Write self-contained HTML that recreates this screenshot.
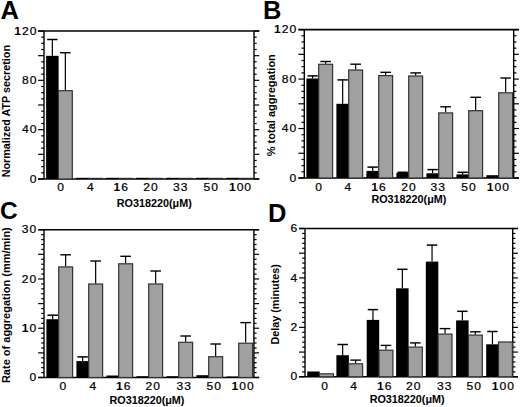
<!DOCTYPE html>
<html><head><meta charset="utf-8"><style>
html,body{margin:0;padding:0;background:#fff;}
svg{display:block;font-family:"Liberation Sans", sans-serif;}
</style></head><body>
<svg width="520" height="407" viewBox="0 0 520 407">
<rect width="520" height="407" fill="#fff"/>
<line x1="44.00" y1="31.00" x2="44.00" y2="179.00" stroke="#000" stroke-width="1.4"/>
<line x1="254.00" y1="31.00" x2="254.00" y2="179.00" stroke="#000" stroke-width="1.4"/>
<line x1="38.10" y1="179.00" x2="44.00" y2="179.00" stroke="#000" stroke-width="1.2"/>
<line x1="254.00" y1="179.00" x2="259.20" y2="179.00" stroke="#000" stroke-width="1.2"/>
<line x1="41.20" y1="172.83" x2="44.00" y2="172.83" stroke="#000" stroke-width="1.2"/>
<line x1="254.00" y1="172.83" x2="256.70" y2="172.83" stroke="#000" stroke-width="1.2"/>
<line x1="41.20" y1="166.67" x2="44.00" y2="166.67" stroke="#000" stroke-width="1.2"/>
<line x1="254.00" y1="166.67" x2="256.70" y2="166.67" stroke="#000" stroke-width="1.2"/>
<line x1="41.20" y1="160.50" x2="44.00" y2="160.50" stroke="#000" stroke-width="1.2"/>
<line x1="254.00" y1="160.50" x2="256.70" y2="160.50" stroke="#000" stroke-width="1.2"/>
<line x1="38.10" y1="154.33" x2="44.00" y2="154.33" stroke="#000" stroke-width="1.2"/>
<line x1="254.00" y1="154.33" x2="259.20" y2="154.33" stroke="#000" stroke-width="1.2"/>
<line x1="41.20" y1="148.17" x2="44.00" y2="148.17" stroke="#000" stroke-width="1.2"/>
<line x1="254.00" y1="148.17" x2="256.70" y2="148.17" stroke="#000" stroke-width="1.2"/>
<line x1="41.20" y1="142.00" x2="44.00" y2="142.00" stroke="#000" stroke-width="1.2"/>
<line x1="254.00" y1="142.00" x2="256.70" y2="142.00" stroke="#000" stroke-width="1.2"/>
<line x1="41.20" y1="135.83" x2="44.00" y2="135.83" stroke="#000" stroke-width="1.2"/>
<line x1="254.00" y1="135.83" x2="256.70" y2="135.83" stroke="#000" stroke-width="1.2"/>
<line x1="38.10" y1="129.67" x2="44.00" y2="129.67" stroke="#000" stroke-width="1.2"/>
<line x1="254.00" y1="129.67" x2="259.20" y2="129.67" stroke="#000" stroke-width="1.2"/>
<line x1="41.20" y1="123.50" x2="44.00" y2="123.50" stroke="#000" stroke-width="1.2"/>
<line x1="254.00" y1="123.50" x2="256.70" y2="123.50" stroke="#000" stroke-width="1.2"/>
<line x1="41.20" y1="117.33" x2="44.00" y2="117.33" stroke="#000" stroke-width="1.2"/>
<line x1="254.00" y1="117.33" x2="256.70" y2="117.33" stroke="#000" stroke-width="1.2"/>
<line x1="41.20" y1="111.17" x2="44.00" y2="111.17" stroke="#000" stroke-width="1.2"/>
<line x1="254.00" y1="111.17" x2="256.70" y2="111.17" stroke="#000" stroke-width="1.2"/>
<line x1="38.10" y1="105.00" x2="44.00" y2="105.00" stroke="#000" stroke-width="1.2"/>
<line x1="254.00" y1="105.00" x2="259.20" y2="105.00" stroke="#000" stroke-width="1.2"/>
<line x1="41.20" y1="98.83" x2="44.00" y2="98.83" stroke="#000" stroke-width="1.2"/>
<line x1="254.00" y1="98.83" x2="256.70" y2="98.83" stroke="#000" stroke-width="1.2"/>
<line x1="41.20" y1="92.67" x2="44.00" y2="92.67" stroke="#000" stroke-width="1.2"/>
<line x1="254.00" y1="92.67" x2="256.70" y2="92.67" stroke="#000" stroke-width="1.2"/>
<line x1="41.20" y1="86.50" x2="44.00" y2="86.50" stroke="#000" stroke-width="1.2"/>
<line x1="254.00" y1="86.50" x2="256.70" y2="86.50" stroke="#000" stroke-width="1.2"/>
<line x1="38.10" y1="80.33" x2="44.00" y2="80.33" stroke="#000" stroke-width="1.2"/>
<line x1="254.00" y1="80.33" x2="259.20" y2="80.33" stroke="#000" stroke-width="1.2"/>
<line x1="41.20" y1="74.17" x2="44.00" y2="74.17" stroke="#000" stroke-width="1.2"/>
<line x1="254.00" y1="74.17" x2="256.70" y2="74.17" stroke="#000" stroke-width="1.2"/>
<line x1="41.20" y1="68.00" x2="44.00" y2="68.00" stroke="#000" stroke-width="1.2"/>
<line x1="254.00" y1="68.00" x2="256.70" y2="68.00" stroke="#000" stroke-width="1.2"/>
<line x1="41.20" y1="61.83" x2="44.00" y2="61.83" stroke="#000" stroke-width="1.2"/>
<line x1="254.00" y1="61.83" x2="256.70" y2="61.83" stroke="#000" stroke-width="1.2"/>
<line x1="38.10" y1="55.67" x2="44.00" y2="55.67" stroke="#000" stroke-width="1.2"/>
<line x1="254.00" y1="55.67" x2="259.20" y2="55.67" stroke="#000" stroke-width="1.2"/>
<line x1="41.20" y1="49.50" x2="44.00" y2="49.50" stroke="#000" stroke-width="1.2"/>
<line x1="254.00" y1="49.50" x2="256.70" y2="49.50" stroke="#000" stroke-width="1.2"/>
<line x1="41.20" y1="43.33" x2="44.00" y2="43.33" stroke="#000" stroke-width="1.2"/>
<line x1="254.00" y1="43.33" x2="256.70" y2="43.33" stroke="#000" stroke-width="1.2"/>
<line x1="41.20" y1="37.17" x2="44.00" y2="37.17" stroke="#000" stroke-width="1.2"/>
<line x1="254.00" y1="37.17" x2="256.70" y2="37.17" stroke="#000" stroke-width="1.2"/>
<line x1="38.10" y1="31.00" x2="44.00" y2="31.00" stroke="#000" stroke-width="1.2"/>
<line x1="254.00" y1="31.00" x2="259.20" y2="31.00" stroke="#000" stroke-width="1.2"/>
<line x1="38.10" y1="31.00" x2="259.30" y2="31.00" stroke="#000" stroke-width="1.6"/>
<line x1="38.10" y1="179.00" x2="259.30" y2="179.00" stroke="#000" stroke-width="1.6"/>
<text transform="translate(37.51,34.60) scale(1.12,1)" font-size="10.8" font-weight="normal" text-anchor="end" letter-spacing="0.9" stroke="#000" stroke-width="0.2"><tspan font-weight="bold" stroke-width="0">1</tspan>20</text>
<text transform="translate(37.51,83.93) scale(1.12,1)" font-size="10.8" font-weight="normal" text-anchor="end" letter-spacing="0.9" stroke="#000" stroke-width="0.2">80</text>
<text transform="translate(37.51,133.27) scale(1.12,1)" font-size="10.8" font-weight="normal" text-anchor="end" letter-spacing="0.9" stroke="#000" stroke-width="0.2">40</text>
<text transform="translate(37.51,182.60) scale(1.12,1)" font-size="10.8" font-weight="normal" text-anchor="end" letter-spacing="0.9" stroke="#000" stroke-width="0.2">0</text>
<rect x="46.10" y="55.80" width="12.50" height="123.20" fill="#000"/>
<rect x="58.40" y="90.70" width="13.90" height="88.30" fill="#a0a0a0" stroke="#333" stroke-width="1.2"/>
<line x1="52.35" y1="39.50" x2="52.35" y2="55.80" stroke="#000" stroke-width="1.2"/>
<line x1="47.15" y1="39.50" x2="57.55" y2="39.50" stroke="#000" stroke-width="1.5"/>
<line x1="65.35" y1="52.70" x2="65.35" y2="90.10" stroke="#000" stroke-width="1.2"/>
<line x1="60.05" y1="52.70" x2="70.65" y2="52.70" stroke="#000" stroke-width="1.4"/>
<rect x="76.10" y="177.80" width="12.50" height="1.20" fill="#000"/>
<rect x="87.80" y="177.80" width="15.10" height="1.20" fill="#2a2a2a"/>
<rect x="106.10" y="177.80" width="12.50" height="1.20" fill="#000"/>
<rect x="117.80" y="177.80" width="15.10" height="1.20" fill="#2a2a2a"/>
<rect x="136.10" y="177.80" width="12.50" height="1.20" fill="#000"/>
<rect x="147.80" y="177.80" width="15.10" height="1.20" fill="#2a2a2a"/>
<rect x="166.10" y="177.80" width="12.50" height="1.20" fill="#000"/>
<rect x="177.80" y="177.80" width="15.10" height="1.20" fill="#2a2a2a"/>
<rect x="196.10" y="177.80" width="12.50" height="1.20" fill="#000"/>
<rect x="207.80" y="177.80" width="15.10" height="1.20" fill="#2a2a2a"/>
<rect x="226.10" y="177.80" width="12.50" height="1.20" fill="#000"/>
<rect x="237.80" y="177.80" width="15.10" height="1.20" fill="#2a2a2a"/>
<text transform="translate(61.00,191.30) scale(1.12,1)" font-size="10.8" font-weight="normal" text-anchor="middle" letter-spacing="0.9" stroke="#000" stroke-width="0.2">0</text>
<text transform="translate(90.80,191.30) scale(1.12,1)" font-size="10.8" font-weight="normal" text-anchor="middle" letter-spacing="0.9" stroke="#000" stroke-width="0.2">4</text>
<text transform="translate(121.30,191.30) scale(1.12,1)" font-size="10.8" font-weight="normal" text-anchor="middle" letter-spacing="0.9" stroke="#000" stroke-width="0.2"><tspan font-weight="bold" stroke-width="0">1</tspan>6</text>
<text transform="translate(151.00,191.30) scale(1.12,1)" font-size="10.8" font-weight="normal" text-anchor="middle" letter-spacing="0.9" stroke="#000" stroke-width="0.2">20</text>
<text transform="translate(180.80,191.30) scale(1.12,1)" font-size="10.8" font-weight="normal" text-anchor="middle" letter-spacing="0.9" stroke="#000" stroke-width="0.2">33</text>
<text transform="translate(211.30,191.30) scale(1.12,1)" font-size="10.8" font-weight="normal" text-anchor="middle" letter-spacing="0.9" stroke="#000" stroke-width="0.2">50</text>
<text transform="translate(240.50,191.30) scale(1.12,1)" font-size="10.8" font-weight="normal" text-anchor="middle" letter-spacing="0.9" stroke="#000" stroke-width="0.2"><tspan font-weight="bold" stroke-width="0">1</tspan>00</text>
<text x="154.30" y="206.50" font-size="10.8" font-weight="bold" text-anchor="middle">RO318220(μM)</text>
<text transform="translate(10.10,111.15) rotate(-90)" font-size="10.8" font-weight="bold" text-anchor="middle">Normalized ATP secretion</text>
<text x="0.50" y="18.70" font-size="25.5" font-weight="bold" text-anchor="start">A</text>
<line x1="304.30" y1="29.60" x2="304.30" y2="178.00" stroke="#000" stroke-width="1.4"/>
<line x1="513.70" y1="29.60" x2="513.70" y2="178.00" stroke="#000" stroke-width="1.4"/>
<line x1="298.40" y1="178.00" x2="304.30" y2="178.00" stroke="#000" stroke-width="1.2"/>
<line x1="513.70" y1="178.00" x2="518.90" y2="178.00" stroke="#000" stroke-width="1.2"/>
<line x1="301.50" y1="171.82" x2="304.30" y2="171.82" stroke="#000" stroke-width="1.2"/>
<line x1="513.70" y1="171.82" x2="516.40" y2="171.82" stroke="#000" stroke-width="1.2"/>
<line x1="301.50" y1="165.63" x2="304.30" y2="165.63" stroke="#000" stroke-width="1.2"/>
<line x1="513.70" y1="165.63" x2="516.40" y2="165.63" stroke="#000" stroke-width="1.2"/>
<line x1="301.50" y1="159.45" x2="304.30" y2="159.45" stroke="#000" stroke-width="1.2"/>
<line x1="513.70" y1="159.45" x2="516.40" y2="159.45" stroke="#000" stroke-width="1.2"/>
<line x1="298.40" y1="153.27" x2="304.30" y2="153.27" stroke="#000" stroke-width="1.2"/>
<line x1="513.70" y1="153.27" x2="518.90" y2="153.27" stroke="#000" stroke-width="1.2"/>
<line x1="301.50" y1="147.08" x2="304.30" y2="147.08" stroke="#000" stroke-width="1.2"/>
<line x1="513.70" y1="147.08" x2="516.40" y2="147.08" stroke="#000" stroke-width="1.2"/>
<line x1="301.50" y1="140.90" x2="304.30" y2="140.90" stroke="#000" stroke-width="1.2"/>
<line x1="513.70" y1="140.90" x2="516.40" y2="140.90" stroke="#000" stroke-width="1.2"/>
<line x1="301.50" y1="134.72" x2="304.30" y2="134.72" stroke="#000" stroke-width="1.2"/>
<line x1="513.70" y1="134.72" x2="516.40" y2="134.72" stroke="#000" stroke-width="1.2"/>
<line x1="298.40" y1="128.53" x2="304.30" y2="128.53" stroke="#000" stroke-width="1.2"/>
<line x1="513.70" y1="128.53" x2="518.90" y2="128.53" stroke="#000" stroke-width="1.2"/>
<line x1="301.50" y1="122.35" x2="304.30" y2="122.35" stroke="#000" stroke-width="1.2"/>
<line x1="513.70" y1="122.35" x2="516.40" y2="122.35" stroke="#000" stroke-width="1.2"/>
<line x1="301.50" y1="116.17" x2="304.30" y2="116.17" stroke="#000" stroke-width="1.2"/>
<line x1="513.70" y1="116.17" x2="516.40" y2="116.17" stroke="#000" stroke-width="1.2"/>
<line x1="301.50" y1="109.98" x2="304.30" y2="109.98" stroke="#000" stroke-width="1.2"/>
<line x1="513.70" y1="109.98" x2="516.40" y2="109.98" stroke="#000" stroke-width="1.2"/>
<line x1="298.40" y1="103.80" x2="304.30" y2="103.80" stroke="#000" stroke-width="1.2"/>
<line x1="513.70" y1="103.80" x2="518.90" y2="103.80" stroke="#000" stroke-width="1.2"/>
<line x1="301.50" y1="97.62" x2="304.30" y2="97.62" stroke="#000" stroke-width="1.2"/>
<line x1="513.70" y1="97.62" x2="516.40" y2="97.62" stroke="#000" stroke-width="1.2"/>
<line x1="301.50" y1="91.43" x2="304.30" y2="91.43" stroke="#000" stroke-width="1.2"/>
<line x1="513.70" y1="91.43" x2="516.40" y2="91.43" stroke="#000" stroke-width="1.2"/>
<line x1="301.50" y1="85.25" x2="304.30" y2="85.25" stroke="#000" stroke-width="1.2"/>
<line x1="513.70" y1="85.25" x2="516.40" y2="85.25" stroke="#000" stroke-width="1.2"/>
<line x1="298.40" y1="79.07" x2="304.30" y2="79.07" stroke="#000" stroke-width="1.2"/>
<line x1="513.70" y1="79.07" x2="518.90" y2="79.07" stroke="#000" stroke-width="1.2"/>
<line x1="301.50" y1="72.88" x2="304.30" y2="72.88" stroke="#000" stroke-width="1.2"/>
<line x1="513.70" y1="72.88" x2="516.40" y2="72.88" stroke="#000" stroke-width="1.2"/>
<line x1="301.50" y1="66.70" x2="304.30" y2="66.70" stroke="#000" stroke-width="1.2"/>
<line x1="513.70" y1="66.70" x2="516.40" y2="66.70" stroke="#000" stroke-width="1.2"/>
<line x1="301.50" y1="60.52" x2="304.30" y2="60.52" stroke="#000" stroke-width="1.2"/>
<line x1="513.70" y1="60.52" x2="516.40" y2="60.52" stroke="#000" stroke-width="1.2"/>
<line x1="298.40" y1="54.33" x2="304.30" y2="54.33" stroke="#000" stroke-width="1.2"/>
<line x1="513.70" y1="54.33" x2="518.90" y2="54.33" stroke="#000" stroke-width="1.2"/>
<line x1="301.50" y1="48.15" x2="304.30" y2="48.15" stroke="#000" stroke-width="1.2"/>
<line x1="513.70" y1="48.15" x2="516.40" y2="48.15" stroke="#000" stroke-width="1.2"/>
<line x1="301.50" y1="41.97" x2="304.30" y2="41.97" stroke="#000" stroke-width="1.2"/>
<line x1="513.70" y1="41.97" x2="516.40" y2="41.97" stroke="#000" stroke-width="1.2"/>
<line x1="301.50" y1="35.78" x2="304.30" y2="35.78" stroke="#000" stroke-width="1.2"/>
<line x1="513.70" y1="35.78" x2="516.40" y2="35.78" stroke="#000" stroke-width="1.2"/>
<line x1="298.40" y1="29.60" x2="304.30" y2="29.60" stroke="#000" stroke-width="1.2"/>
<line x1="513.70" y1="29.60" x2="518.90" y2="29.60" stroke="#000" stroke-width="1.2"/>
<line x1="298.40" y1="29.60" x2="519.00" y2="29.60" stroke="#000" stroke-width="1.6"/>
<line x1="298.40" y1="178.00" x2="519.00" y2="178.00" stroke="#000" stroke-width="1.6"/>
<text transform="translate(297.21,33.20) scale(1.12,1)" font-size="10.8" font-weight="normal" text-anchor="end" letter-spacing="0.9" stroke="#000" stroke-width="0.2"><tspan font-weight="bold" stroke-width="0">1</tspan>20</text>
<text transform="translate(297.21,82.67) scale(1.12,1)" font-size="10.8" font-weight="normal" text-anchor="end" letter-spacing="0.9" stroke="#000" stroke-width="0.2">80</text>
<text transform="translate(297.21,132.13) scale(1.12,1)" font-size="10.8" font-weight="normal" text-anchor="end" letter-spacing="0.9" stroke="#000" stroke-width="0.2">40</text>
<text transform="translate(297.21,181.60) scale(1.12,1)" font-size="10.8" font-weight="normal" text-anchor="end" letter-spacing="0.9" stroke="#000" stroke-width="0.2">0</text>
<rect x="306.40" y="78.50" width="12.50" height="99.50" fill="#000"/>
<rect x="318.70" y="64.30" width="13.90" height="113.70" fill="#a0a0a0" stroke="#333" stroke-width="1.2"/>
<line x1="312.65" y1="75.90" x2="312.65" y2="78.50" stroke="#000" stroke-width="1.2"/>
<line x1="307.45" y1="75.90" x2="317.85" y2="75.90" stroke="#000" stroke-width="1.5"/>
<line x1="325.65" y1="61.50" x2="325.65" y2="63.70" stroke="#000" stroke-width="1.2"/>
<line x1="320.35" y1="61.50" x2="330.95" y2="61.50" stroke="#000" stroke-width="1.4"/>
<rect x="336.40" y="103.80" width="12.50" height="74.20" fill="#000"/>
<rect x="348.70" y="70.00" width="13.90" height="108.00" fill="#a0a0a0" stroke="#333" stroke-width="1.2"/>
<line x1="342.65" y1="79.90" x2="342.65" y2="103.80" stroke="#000" stroke-width="1.2"/>
<line x1="337.45" y1="79.90" x2="347.85" y2="79.90" stroke="#000" stroke-width="1.5"/>
<line x1="355.65" y1="64.20" x2="355.65" y2="69.40" stroke="#000" stroke-width="1.2"/>
<line x1="350.35" y1="64.20" x2="360.95" y2="64.20" stroke="#000" stroke-width="1.4"/>
<rect x="366.40" y="170.90" width="12.50" height="7.10" fill="#000"/>
<rect x="378.70" y="75.60" width="13.90" height="102.40" fill="#a0a0a0" stroke="#333" stroke-width="1.2"/>
<line x1="372.65" y1="167.10" x2="372.65" y2="170.90" stroke="#000" stroke-width="1.2"/>
<line x1="367.45" y1="167.10" x2="377.85" y2="167.10" stroke="#000" stroke-width="1.5"/>
<line x1="385.65" y1="72.30" x2="385.65" y2="75.00" stroke="#000" stroke-width="1.2"/>
<line x1="380.35" y1="72.30" x2="390.95" y2="72.30" stroke="#000" stroke-width="1.4"/>
<rect x="396.40" y="172.90" width="12.50" height="5.10" fill="#000"/>
<rect x="408.70" y="76.00" width="13.90" height="102.00" fill="#a0a0a0" stroke="#333" stroke-width="1.2"/>
<line x1="402.65" y1="172.30" x2="402.65" y2="172.90" stroke="#000" stroke-width="1.2"/>
<line x1="397.45" y1="172.30" x2="407.85" y2="172.30" stroke="#000" stroke-width="1.5"/>
<line x1="415.65" y1="72.90" x2="415.65" y2="75.40" stroke="#000" stroke-width="1.2"/>
<line x1="410.35" y1="72.90" x2="420.95" y2="72.90" stroke="#000" stroke-width="1.4"/>
<rect x="426.40" y="173.30" width="12.50" height="4.70" fill="#000"/>
<rect x="438.70" y="112.90" width="13.90" height="65.10" fill="#a0a0a0" stroke="#333" stroke-width="1.2"/>
<line x1="432.65" y1="169.60" x2="432.65" y2="173.30" stroke="#000" stroke-width="1.2"/>
<line x1="427.45" y1="169.60" x2="437.85" y2="169.60" stroke="#000" stroke-width="1.5"/>
<line x1="445.65" y1="106.80" x2="445.65" y2="112.30" stroke="#000" stroke-width="1.2"/>
<line x1="440.35" y1="106.80" x2="450.95" y2="106.80" stroke="#000" stroke-width="1.4"/>
<rect x="456.40" y="174.40" width="12.50" height="3.60" fill="#000"/>
<rect x="468.70" y="110.70" width="13.90" height="67.30" fill="#a0a0a0" stroke="#333" stroke-width="1.2"/>
<line x1="462.65" y1="172.30" x2="462.65" y2="174.40" stroke="#000" stroke-width="1.2"/>
<line x1="457.45" y1="172.30" x2="467.85" y2="172.30" stroke="#000" stroke-width="1.5"/>
<line x1="475.65" y1="97.30" x2="475.65" y2="110.10" stroke="#000" stroke-width="1.2"/>
<line x1="470.35" y1="97.30" x2="480.95" y2="97.30" stroke="#000" stroke-width="1.4"/>
<rect x="486.40" y="175.20" width="12.50" height="2.80" fill="#000"/>
<rect x="498.70" y="92.80" width="13.90" height="85.20" fill="#a0a0a0" stroke="#333" stroke-width="1.2"/>
<line x1="505.65" y1="78.00" x2="505.65" y2="92.20" stroke="#000" stroke-width="1.2"/>
<line x1="500.35" y1="78.00" x2="510.95" y2="78.00" stroke="#000" stroke-width="1.4"/>
<text transform="translate(319.10,190.50) scale(1.12,1)" font-size="10.8" font-weight="normal" text-anchor="middle" letter-spacing="0.9" stroke="#000" stroke-width="0.2">0</text>
<text transform="translate(348.40,190.50) scale(1.12,1)" font-size="10.8" font-weight="normal" text-anchor="middle" letter-spacing="0.9" stroke="#000" stroke-width="0.2">4</text>
<text transform="translate(379.10,190.50) scale(1.12,1)" font-size="10.8" font-weight="normal" text-anchor="middle" letter-spacing="0.9" stroke="#000" stroke-width="0.2"><tspan font-weight="bold" stroke-width="0">1</tspan>6</text>
<text transform="translate(409.00,190.50) scale(1.12,1)" font-size="10.8" font-weight="normal" text-anchor="middle" letter-spacing="0.9" stroke="#000" stroke-width="0.2">20</text>
<text transform="translate(438.30,190.50) scale(1.12,1)" font-size="10.8" font-weight="normal" text-anchor="middle" letter-spacing="0.9" stroke="#000" stroke-width="0.2">33</text>
<text transform="translate(468.90,190.50) scale(1.12,1)" font-size="10.8" font-weight="normal" text-anchor="middle" letter-spacing="0.9" stroke="#000" stroke-width="0.2">50</text>
<text transform="translate(498.40,190.50) scale(1.12,1)" font-size="10.8" font-weight="normal" text-anchor="middle" letter-spacing="0.9" stroke="#000" stroke-width="0.2"><tspan font-weight="bold" stroke-width="0">1</tspan>00</text>
<text x="408.90" y="202.50" font-size="10.8" font-weight="bold" text-anchor="middle">RO318220(μM)</text>
<text transform="translate(274.70,105.20) rotate(-90)" font-size="11.0" font-weight="bold" text-anchor="middle">% total aggregation</text>
<text x="263.10" y="18.80" font-size="25.5" font-weight="bold" text-anchor="start">B</text>
<line x1="44.00" y1="229.70" x2="44.00" y2="377.50" stroke="#000" stroke-width="1.4"/>
<line x1="253.90" y1="229.70" x2="253.90" y2="377.50" stroke="#000" stroke-width="1.4"/>
<line x1="38.10" y1="377.50" x2="44.00" y2="377.50" stroke="#000" stroke-width="1.2"/>
<line x1="253.90" y1="377.50" x2="259.10" y2="377.50" stroke="#000" stroke-width="1.2"/>
<line x1="41.20" y1="372.57" x2="44.00" y2="372.57" stroke="#000" stroke-width="1.2"/>
<line x1="253.90" y1="372.57" x2="256.60" y2="372.57" stroke="#000" stroke-width="1.2"/>
<line x1="41.20" y1="367.65" x2="44.00" y2="367.65" stroke="#000" stroke-width="1.2"/>
<line x1="253.90" y1="367.65" x2="256.60" y2="367.65" stroke="#000" stroke-width="1.2"/>
<line x1="41.20" y1="362.72" x2="44.00" y2="362.72" stroke="#000" stroke-width="1.2"/>
<line x1="253.90" y1="362.72" x2="256.60" y2="362.72" stroke="#000" stroke-width="1.2"/>
<line x1="41.20" y1="357.79" x2="44.00" y2="357.79" stroke="#000" stroke-width="1.2"/>
<line x1="253.90" y1="357.79" x2="256.60" y2="357.79" stroke="#000" stroke-width="1.2"/>
<line x1="38.10" y1="352.87" x2="44.00" y2="352.87" stroke="#000" stroke-width="1.2"/>
<line x1="253.90" y1="352.87" x2="259.10" y2="352.87" stroke="#000" stroke-width="1.2"/>
<line x1="41.20" y1="347.94" x2="44.00" y2="347.94" stroke="#000" stroke-width="1.2"/>
<line x1="253.90" y1="347.94" x2="256.60" y2="347.94" stroke="#000" stroke-width="1.2"/>
<line x1="41.20" y1="343.01" x2="44.00" y2="343.01" stroke="#000" stroke-width="1.2"/>
<line x1="253.90" y1="343.01" x2="256.60" y2="343.01" stroke="#000" stroke-width="1.2"/>
<line x1="41.20" y1="338.09" x2="44.00" y2="338.09" stroke="#000" stroke-width="1.2"/>
<line x1="253.90" y1="338.09" x2="256.60" y2="338.09" stroke="#000" stroke-width="1.2"/>
<line x1="41.20" y1="333.16" x2="44.00" y2="333.16" stroke="#000" stroke-width="1.2"/>
<line x1="253.90" y1="333.16" x2="256.60" y2="333.16" stroke="#000" stroke-width="1.2"/>
<line x1="38.10" y1="328.23" x2="44.00" y2="328.23" stroke="#000" stroke-width="1.2"/>
<line x1="253.90" y1="328.23" x2="259.10" y2="328.23" stroke="#000" stroke-width="1.2"/>
<line x1="41.20" y1="323.31" x2="44.00" y2="323.31" stroke="#000" stroke-width="1.2"/>
<line x1="253.90" y1="323.31" x2="256.60" y2="323.31" stroke="#000" stroke-width="1.2"/>
<line x1="41.20" y1="318.38" x2="44.00" y2="318.38" stroke="#000" stroke-width="1.2"/>
<line x1="253.90" y1="318.38" x2="256.60" y2="318.38" stroke="#000" stroke-width="1.2"/>
<line x1="41.20" y1="313.45" x2="44.00" y2="313.45" stroke="#000" stroke-width="1.2"/>
<line x1="253.90" y1="313.45" x2="256.60" y2="313.45" stroke="#000" stroke-width="1.2"/>
<line x1="41.20" y1="308.53" x2="44.00" y2="308.53" stroke="#000" stroke-width="1.2"/>
<line x1="253.90" y1="308.53" x2="256.60" y2="308.53" stroke="#000" stroke-width="1.2"/>
<line x1="38.10" y1="303.60" x2="44.00" y2="303.60" stroke="#000" stroke-width="1.2"/>
<line x1="253.90" y1="303.60" x2="259.10" y2="303.60" stroke="#000" stroke-width="1.2"/>
<line x1="41.20" y1="298.67" x2="44.00" y2="298.67" stroke="#000" stroke-width="1.2"/>
<line x1="253.90" y1="298.67" x2="256.60" y2="298.67" stroke="#000" stroke-width="1.2"/>
<line x1="41.20" y1="293.75" x2="44.00" y2="293.75" stroke="#000" stroke-width="1.2"/>
<line x1="253.90" y1="293.75" x2="256.60" y2="293.75" stroke="#000" stroke-width="1.2"/>
<line x1="41.20" y1="288.82" x2="44.00" y2="288.82" stroke="#000" stroke-width="1.2"/>
<line x1="253.90" y1="288.82" x2="256.60" y2="288.82" stroke="#000" stroke-width="1.2"/>
<line x1="41.20" y1="283.89" x2="44.00" y2="283.89" stroke="#000" stroke-width="1.2"/>
<line x1="253.90" y1="283.89" x2="256.60" y2="283.89" stroke="#000" stroke-width="1.2"/>
<line x1="38.10" y1="278.97" x2="44.00" y2="278.97" stroke="#000" stroke-width="1.2"/>
<line x1="253.90" y1="278.97" x2="259.10" y2="278.97" stroke="#000" stroke-width="1.2"/>
<line x1="41.20" y1="274.04" x2="44.00" y2="274.04" stroke="#000" stroke-width="1.2"/>
<line x1="253.90" y1="274.04" x2="256.60" y2="274.04" stroke="#000" stroke-width="1.2"/>
<line x1="41.20" y1="269.11" x2="44.00" y2="269.11" stroke="#000" stroke-width="1.2"/>
<line x1="253.90" y1="269.11" x2="256.60" y2="269.11" stroke="#000" stroke-width="1.2"/>
<line x1="41.20" y1="264.19" x2="44.00" y2="264.19" stroke="#000" stroke-width="1.2"/>
<line x1="253.90" y1="264.19" x2="256.60" y2="264.19" stroke="#000" stroke-width="1.2"/>
<line x1="41.20" y1="259.26" x2="44.00" y2="259.26" stroke="#000" stroke-width="1.2"/>
<line x1="253.90" y1="259.26" x2="256.60" y2="259.26" stroke="#000" stroke-width="1.2"/>
<line x1="38.10" y1="254.33" x2="44.00" y2="254.33" stroke="#000" stroke-width="1.2"/>
<line x1="253.90" y1="254.33" x2="259.10" y2="254.33" stroke="#000" stroke-width="1.2"/>
<line x1="41.20" y1="249.41" x2="44.00" y2="249.41" stroke="#000" stroke-width="1.2"/>
<line x1="253.90" y1="249.41" x2="256.60" y2="249.41" stroke="#000" stroke-width="1.2"/>
<line x1="41.20" y1="244.48" x2="44.00" y2="244.48" stroke="#000" stroke-width="1.2"/>
<line x1="253.90" y1="244.48" x2="256.60" y2="244.48" stroke="#000" stroke-width="1.2"/>
<line x1="41.20" y1="239.55" x2="44.00" y2="239.55" stroke="#000" stroke-width="1.2"/>
<line x1="253.90" y1="239.55" x2="256.60" y2="239.55" stroke="#000" stroke-width="1.2"/>
<line x1="41.20" y1="234.63" x2="44.00" y2="234.63" stroke="#000" stroke-width="1.2"/>
<line x1="253.90" y1="234.63" x2="256.60" y2="234.63" stroke="#000" stroke-width="1.2"/>
<line x1="38.10" y1="229.70" x2="44.00" y2="229.70" stroke="#000" stroke-width="1.2"/>
<line x1="253.90" y1="229.70" x2="259.10" y2="229.70" stroke="#000" stroke-width="1.2"/>
<line x1="38.10" y1="229.70" x2="259.20" y2="229.70" stroke="#000" stroke-width="1.6"/>
<line x1="38.10" y1="377.50" x2="259.20" y2="377.50" stroke="#000" stroke-width="1.6"/>
<text transform="translate(37.31,233.30) scale(1.12,1)" font-size="10.8" font-weight="normal" text-anchor="end" letter-spacing="0.9" stroke="#000" stroke-width="0.2">30</text>
<text transform="translate(37.31,282.57) scale(1.12,1)" font-size="10.8" font-weight="normal" text-anchor="end" letter-spacing="0.9" stroke="#000" stroke-width="0.2">20</text>
<text transform="translate(37.31,331.83) scale(1.12,1)" font-size="10.8" font-weight="normal" text-anchor="end" letter-spacing="0.9" stroke="#000" stroke-width="0.2"><tspan font-weight="bold" stroke-width="0">1</tspan>0</text>
<text transform="translate(37.31,381.10) scale(1.12,1)" font-size="10.8" font-weight="normal" text-anchor="end" letter-spacing="0.9" stroke="#000" stroke-width="0.2">0</text>
<rect x="46.40" y="319.20" width="12.50" height="58.30" fill="#000"/>
<rect x="58.70" y="266.90" width="13.90" height="110.60" fill="#a0a0a0" stroke="#333" stroke-width="1.2"/>
<line x1="52.65" y1="315.20" x2="52.65" y2="319.20" stroke="#000" stroke-width="1.2"/>
<line x1="47.45" y1="315.20" x2="57.85" y2="315.20" stroke="#000" stroke-width="1.5"/>
<line x1="65.65" y1="254.80" x2="65.65" y2="266.30" stroke="#000" stroke-width="1.2"/>
<line x1="60.35" y1="254.80" x2="70.95" y2="254.80" stroke="#000" stroke-width="1.4"/>
<rect x="76.40" y="361.10" width="12.50" height="16.40" fill="#000"/>
<rect x="88.70" y="284.00" width="13.90" height="93.50" fill="#a0a0a0" stroke="#333" stroke-width="1.2"/>
<line x1="82.65" y1="356.90" x2="82.65" y2="361.10" stroke="#000" stroke-width="1.2"/>
<line x1="77.45" y1="356.90" x2="87.85" y2="356.90" stroke="#000" stroke-width="1.5"/>
<line x1="95.65" y1="261.00" x2="95.65" y2="283.40" stroke="#000" stroke-width="1.2"/>
<line x1="90.35" y1="261.00" x2="100.95" y2="261.00" stroke="#000" stroke-width="1.4"/>
<rect x="106.40" y="375.50" width="12.50" height="2.00" fill="#000"/>
<rect x="118.70" y="263.80" width="13.90" height="113.70" fill="#a0a0a0" stroke="#333" stroke-width="1.2"/>
<line x1="125.65" y1="256.30" x2="125.65" y2="263.20" stroke="#000" stroke-width="1.2"/>
<line x1="120.35" y1="256.30" x2="130.95" y2="256.30" stroke="#000" stroke-width="1.4"/>
<rect x="136.40" y="376.20" width="12.50" height="1.30" fill="#000"/>
<rect x="148.70" y="284.00" width="13.90" height="93.50" fill="#a0a0a0" stroke="#333" stroke-width="1.2"/>
<line x1="155.65" y1="271.00" x2="155.65" y2="283.40" stroke="#000" stroke-width="1.2"/>
<line x1="150.35" y1="271.00" x2="160.95" y2="271.00" stroke="#000" stroke-width="1.4"/>
<rect x="166.40" y="376.20" width="12.50" height="1.30" fill="#000"/>
<rect x="178.70" y="342.30" width="13.90" height="35.20" fill="#a0a0a0" stroke="#333" stroke-width="1.2"/>
<line x1="185.65" y1="336.00" x2="185.65" y2="341.70" stroke="#000" stroke-width="1.2"/>
<line x1="180.35" y1="336.00" x2="190.95" y2="336.00" stroke="#000" stroke-width="1.4"/>
<rect x="196.40" y="375.20" width="12.50" height="2.30" fill="#000"/>
<rect x="208.70" y="356.70" width="13.90" height="20.80" fill="#a0a0a0" stroke="#333" stroke-width="1.2"/>
<line x1="215.65" y1="344.00" x2="215.65" y2="356.10" stroke="#000" stroke-width="1.2"/>
<line x1="210.35" y1="344.00" x2="220.95" y2="344.00" stroke="#000" stroke-width="1.4"/>
<rect x="226.40" y="376.50" width="12.50" height="1.00" fill="#000"/>
<rect x="238.70" y="343.20" width="13.90" height="34.30" fill="#a0a0a0" stroke="#333" stroke-width="1.2"/>
<line x1="245.65" y1="322.60" x2="245.65" y2="342.60" stroke="#000" stroke-width="1.2"/>
<line x1="240.35" y1="322.60" x2="250.95" y2="322.60" stroke="#000" stroke-width="1.4"/>
<text transform="translate(63.30,390.40) scale(1.12,1)" font-size="10.8" font-weight="normal" text-anchor="middle" letter-spacing="0.9" stroke="#000" stroke-width="0.2">0</text>
<text transform="translate(93.40,390.40) scale(1.12,1)" font-size="10.8" font-weight="normal" text-anchor="middle" letter-spacing="0.9" stroke="#000" stroke-width="0.2">4</text>
<text transform="translate(123.70,390.40) scale(1.12,1)" font-size="10.8" font-weight="normal" text-anchor="middle" letter-spacing="0.9" stroke="#000" stroke-width="0.2"><tspan font-weight="bold" stroke-width="0">1</tspan>6</text>
<text transform="translate(153.20,390.40) scale(1.12,1)" font-size="10.8" font-weight="normal" text-anchor="middle" letter-spacing="0.9" stroke="#000" stroke-width="0.2">20</text>
<text transform="translate(184.20,390.40) scale(1.12,1)" font-size="10.8" font-weight="normal" text-anchor="middle" letter-spacing="0.9" stroke="#000" stroke-width="0.2">33</text>
<text transform="translate(214.20,390.40) scale(1.12,1)" font-size="10.8" font-weight="normal" text-anchor="middle" letter-spacing="0.9" stroke="#000" stroke-width="0.2">50</text>
<text transform="translate(243.20,390.40) scale(1.12,1)" font-size="10.8" font-weight="normal" text-anchor="middle" letter-spacing="0.9" stroke="#000" stroke-width="0.2"><tspan font-weight="bold" stroke-width="0">1</tspan>00</text>
<text x="146.95" y="403.50" font-size="10.8" font-weight="bold" text-anchor="middle">RO318220(μM)</text>
<text transform="translate(9.70,305.15) rotate(-90)" font-size="11.0" font-weight="bold" text-anchor="middle">Rate of aggregation (mm/min)</text>
<text x="-0.10" y="218.60" font-size="24.5" font-weight="bold" text-anchor="start">C</text>
<line x1="305.00" y1="228.50" x2="305.00" y2="376.80" stroke="#000" stroke-width="1.4"/>
<line x1="512.70" y1="228.50" x2="512.70" y2="376.80" stroke="#000" stroke-width="1.4"/>
<line x1="299.10" y1="376.80" x2="305.00" y2="376.80" stroke="#000" stroke-width="1.2"/>
<line x1="512.70" y1="376.80" x2="517.90" y2="376.80" stroke="#000" stroke-width="1.2"/>
<line x1="302.20" y1="371.86" x2="305.00" y2="371.86" stroke="#000" stroke-width="1.2"/>
<line x1="512.70" y1="371.86" x2="515.40" y2="371.86" stroke="#000" stroke-width="1.2"/>
<line x1="302.20" y1="366.91" x2="305.00" y2="366.91" stroke="#000" stroke-width="1.2"/>
<line x1="512.70" y1="366.91" x2="515.40" y2="366.91" stroke="#000" stroke-width="1.2"/>
<line x1="302.20" y1="361.97" x2="305.00" y2="361.97" stroke="#000" stroke-width="1.2"/>
<line x1="512.70" y1="361.97" x2="515.40" y2="361.97" stroke="#000" stroke-width="1.2"/>
<line x1="302.20" y1="357.03" x2="305.00" y2="357.03" stroke="#000" stroke-width="1.2"/>
<line x1="512.70" y1="357.03" x2="515.40" y2="357.03" stroke="#000" stroke-width="1.2"/>
<line x1="299.10" y1="352.08" x2="305.00" y2="352.08" stroke="#000" stroke-width="1.2"/>
<line x1="512.70" y1="352.08" x2="517.90" y2="352.08" stroke="#000" stroke-width="1.2"/>
<line x1="302.20" y1="347.14" x2="305.00" y2="347.14" stroke="#000" stroke-width="1.2"/>
<line x1="512.70" y1="347.14" x2="515.40" y2="347.14" stroke="#000" stroke-width="1.2"/>
<line x1="302.20" y1="342.20" x2="305.00" y2="342.20" stroke="#000" stroke-width="1.2"/>
<line x1="512.70" y1="342.20" x2="515.40" y2="342.20" stroke="#000" stroke-width="1.2"/>
<line x1="302.20" y1="337.25" x2="305.00" y2="337.25" stroke="#000" stroke-width="1.2"/>
<line x1="512.70" y1="337.25" x2="515.40" y2="337.25" stroke="#000" stroke-width="1.2"/>
<line x1="302.20" y1="332.31" x2="305.00" y2="332.31" stroke="#000" stroke-width="1.2"/>
<line x1="512.70" y1="332.31" x2="515.40" y2="332.31" stroke="#000" stroke-width="1.2"/>
<line x1="299.10" y1="327.37" x2="305.00" y2="327.37" stroke="#000" stroke-width="1.2"/>
<line x1="512.70" y1="327.37" x2="517.90" y2="327.37" stroke="#000" stroke-width="1.2"/>
<line x1="302.20" y1="322.42" x2="305.00" y2="322.42" stroke="#000" stroke-width="1.2"/>
<line x1="512.70" y1="322.42" x2="515.40" y2="322.42" stroke="#000" stroke-width="1.2"/>
<line x1="302.20" y1="317.48" x2="305.00" y2="317.48" stroke="#000" stroke-width="1.2"/>
<line x1="512.70" y1="317.48" x2="515.40" y2="317.48" stroke="#000" stroke-width="1.2"/>
<line x1="302.20" y1="312.54" x2="305.00" y2="312.54" stroke="#000" stroke-width="1.2"/>
<line x1="512.70" y1="312.54" x2="515.40" y2="312.54" stroke="#000" stroke-width="1.2"/>
<line x1="302.20" y1="307.59" x2="305.00" y2="307.59" stroke="#000" stroke-width="1.2"/>
<line x1="512.70" y1="307.59" x2="515.40" y2="307.59" stroke="#000" stroke-width="1.2"/>
<line x1="299.10" y1="302.65" x2="305.00" y2="302.65" stroke="#000" stroke-width="1.2"/>
<line x1="512.70" y1="302.65" x2="517.90" y2="302.65" stroke="#000" stroke-width="1.2"/>
<line x1="302.20" y1="297.71" x2="305.00" y2="297.71" stroke="#000" stroke-width="1.2"/>
<line x1="512.70" y1="297.71" x2="515.40" y2="297.71" stroke="#000" stroke-width="1.2"/>
<line x1="302.20" y1="292.76" x2="305.00" y2="292.76" stroke="#000" stroke-width="1.2"/>
<line x1="512.70" y1="292.76" x2="515.40" y2="292.76" stroke="#000" stroke-width="1.2"/>
<line x1="302.20" y1="287.82" x2="305.00" y2="287.82" stroke="#000" stroke-width="1.2"/>
<line x1="512.70" y1="287.82" x2="515.40" y2="287.82" stroke="#000" stroke-width="1.2"/>
<line x1="302.20" y1="282.88" x2="305.00" y2="282.88" stroke="#000" stroke-width="1.2"/>
<line x1="512.70" y1="282.88" x2="515.40" y2="282.88" stroke="#000" stroke-width="1.2"/>
<line x1="299.10" y1="277.93" x2="305.00" y2="277.93" stroke="#000" stroke-width="1.2"/>
<line x1="512.70" y1="277.93" x2="517.90" y2="277.93" stroke="#000" stroke-width="1.2"/>
<line x1="302.20" y1="272.99" x2="305.00" y2="272.99" stroke="#000" stroke-width="1.2"/>
<line x1="512.70" y1="272.99" x2="515.40" y2="272.99" stroke="#000" stroke-width="1.2"/>
<line x1="302.20" y1="268.05" x2="305.00" y2="268.05" stroke="#000" stroke-width="1.2"/>
<line x1="512.70" y1="268.05" x2="515.40" y2="268.05" stroke="#000" stroke-width="1.2"/>
<line x1="302.20" y1="263.10" x2="305.00" y2="263.10" stroke="#000" stroke-width="1.2"/>
<line x1="512.70" y1="263.10" x2="515.40" y2="263.10" stroke="#000" stroke-width="1.2"/>
<line x1="302.20" y1="258.16" x2="305.00" y2="258.16" stroke="#000" stroke-width="1.2"/>
<line x1="512.70" y1="258.16" x2="515.40" y2="258.16" stroke="#000" stroke-width="1.2"/>
<line x1="299.10" y1="253.22" x2="305.00" y2="253.22" stroke="#000" stroke-width="1.2"/>
<line x1="512.70" y1="253.22" x2="517.90" y2="253.22" stroke="#000" stroke-width="1.2"/>
<line x1="302.20" y1="248.27" x2="305.00" y2="248.27" stroke="#000" stroke-width="1.2"/>
<line x1="512.70" y1="248.27" x2="515.40" y2="248.27" stroke="#000" stroke-width="1.2"/>
<line x1="302.20" y1="243.33" x2="305.00" y2="243.33" stroke="#000" stroke-width="1.2"/>
<line x1="512.70" y1="243.33" x2="515.40" y2="243.33" stroke="#000" stroke-width="1.2"/>
<line x1="302.20" y1="238.39" x2="305.00" y2="238.39" stroke="#000" stroke-width="1.2"/>
<line x1="512.70" y1="238.39" x2="515.40" y2="238.39" stroke="#000" stroke-width="1.2"/>
<line x1="302.20" y1="233.44" x2="305.00" y2="233.44" stroke="#000" stroke-width="1.2"/>
<line x1="512.70" y1="233.44" x2="515.40" y2="233.44" stroke="#000" stroke-width="1.2"/>
<line x1="299.10" y1="228.50" x2="305.00" y2="228.50" stroke="#000" stroke-width="1.2"/>
<line x1="512.70" y1="228.50" x2="517.90" y2="228.50" stroke="#000" stroke-width="1.2"/>
<line x1="299.10" y1="228.50" x2="518.00" y2="228.50" stroke="#000" stroke-width="1.6"/>
<line x1="299.10" y1="376.80" x2="518.00" y2="376.80" stroke="#000" stroke-width="1.6"/>
<text transform="translate(298.21,232.10) scale(1.12,1)" font-size="10.8" font-weight="normal" text-anchor="end" letter-spacing="0.9" stroke="#000" stroke-width="0.2">6</text>
<text transform="translate(298.21,281.53) scale(1.12,1)" font-size="10.8" font-weight="normal" text-anchor="end" letter-spacing="0.9" stroke="#000" stroke-width="0.2">4</text>
<text transform="translate(298.21,330.97) scale(1.12,1)" font-size="10.8" font-weight="normal" text-anchor="end" letter-spacing="0.9" stroke="#000" stroke-width="0.2">2</text>
<text transform="translate(298.21,380.40) scale(1.12,1)" font-size="10.8" font-weight="normal" text-anchor="end" letter-spacing="0.9" stroke="#000" stroke-width="0.2">0</text>
<rect x="307.20" y="371.50" width="12.50" height="5.30" fill="#000"/>
<rect x="319.50" y="373.80" width="13.90" height="3.00" fill="#a0a0a0" stroke="#333" stroke-width="1.2"/>
<rect x="336.40" y="355.20" width="12.50" height="21.60" fill="#000"/>
<rect x="348.70" y="363.80" width="13.90" height="13.00" fill="#a0a0a0" stroke="#333" stroke-width="1.2"/>
<line x1="342.65" y1="344.50" x2="342.65" y2="355.20" stroke="#000" stroke-width="1.2"/>
<line x1="337.45" y1="344.50" x2="347.85" y2="344.50" stroke="#000" stroke-width="1.5"/>
<line x1="355.65" y1="360.10" x2="355.65" y2="363.20" stroke="#000" stroke-width="1.2"/>
<line x1="350.35" y1="360.10" x2="360.95" y2="360.10" stroke="#000" stroke-width="1.4"/>
<rect x="366.70" y="319.90" width="12.50" height="56.90" fill="#000"/>
<rect x="379.00" y="350.20" width="13.90" height="26.60" fill="#a0a0a0" stroke="#333" stroke-width="1.2"/>
<line x1="372.95" y1="309.60" x2="372.95" y2="319.90" stroke="#000" stroke-width="1.2"/>
<line x1="367.75" y1="309.60" x2="378.15" y2="309.60" stroke="#000" stroke-width="1.5"/>
<line x1="385.95" y1="345.40" x2="385.95" y2="349.60" stroke="#000" stroke-width="1.2"/>
<line x1="380.65" y1="345.40" x2="391.25" y2="345.40" stroke="#000" stroke-width="1.4"/>
<rect x="396.10" y="288.30" width="12.50" height="88.50" fill="#000"/>
<rect x="408.40" y="347.10" width="13.90" height="29.70" fill="#a0a0a0" stroke="#333" stroke-width="1.2"/>
<line x1="402.35" y1="269.30" x2="402.35" y2="288.30" stroke="#000" stroke-width="1.2"/>
<line x1="397.15" y1="269.30" x2="407.55" y2="269.30" stroke="#000" stroke-width="1.5"/>
<line x1="415.35" y1="342.90" x2="415.35" y2="346.50" stroke="#000" stroke-width="1.2"/>
<line x1="410.05" y1="342.90" x2="420.65" y2="342.90" stroke="#000" stroke-width="1.4"/>
<rect x="425.80" y="261.60" width="12.50" height="115.20" fill="#000"/>
<rect x="438.10" y="334.10" width="13.90" height="42.70" fill="#a0a0a0" stroke="#333" stroke-width="1.2"/>
<line x1="432.05" y1="245.10" x2="432.05" y2="261.60" stroke="#000" stroke-width="1.2"/>
<line x1="426.85" y1="245.10" x2="437.25" y2="245.10" stroke="#000" stroke-width="1.5"/>
<line x1="445.05" y1="328.60" x2="445.05" y2="333.50" stroke="#000" stroke-width="1.2"/>
<line x1="439.75" y1="328.60" x2="450.35" y2="328.60" stroke="#000" stroke-width="1.4"/>
<rect x="456.10" y="320.40" width="12.50" height="56.40" fill="#000"/>
<rect x="468.40" y="335.10" width="13.90" height="41.70" fill="#a0a0a0" stroke="#333" stroke-width="1.2"/>
<line x1="462.35" y1="311.30" x2="462.35" y2="320.40" stroke="#000" stroke-width="1.2"/>
<line x1="457.15" y1="311.30" x2="467.55" y2="311.30" stroke="#000" stroke-width="1.5"/>
<line x1="475.35" y1="331.80" x2="475.35" y2="334.50" stroke="#000" stroke-width="1.2"/>
<line x1="470.05" y1="331.80" x2="480.65" y2="331.80" stroke="#000" stroke-width="1.4"/>
<rect x="486.20" y="344.30" width="12.50" height="32.50" fill="#000"/>
<rect x="498.50" y="342.00" width="13.90" height="34.80" fill="#a0a0a0" stroke="#333" stroke-width="1.2"/>
<line x1="492.45" y1="331.50" x2="492.45" y2="344.30" stroke="#000" stroke-width="1.2"/>
<line x1="487.25" y1="331.50" x2="497.65" y2="331.50" stroke="#000" stroke-width="1.5"/>
<text transform="translate(325.00,389.60) scale(1.12,1)" font-size="10.8" font-weight="normal" text-anchor="middle" letter-spacing="0.9" stroke="#000" stroke-width="0.2">0</text>
<text transform="translate(354.20,389.60) scale(1.12,1)" font-size="10.8" font-weight="normal" text-anchor="middle" letter-spacing="0.9" stroke="#000" stroke-width="0.2">4</text>
<text transform="translate(384.70,389.60) scale(1.12,1)" font-size="10.8" font-weight="normal" text-anchor="middle" letter-spacing="0.9" stroke="#000" stroke-width="0.2"><tspan font-weight="bold" stroke-width="0">1</tspan>6</text>
<text transform="translate(413.80,389.60) scale(1.12,1)" font-size="10.8" font-weight="normal" text-anchor="middle" letter-spacing="0.9" stroke="#000" stroke-width="0.2">20</text>
<text transform="translate(444.70,389.60) scale(1.12,1)" font-size="10.8" font-weight="normal" text-anchor="middle" letter-spacing="0.9" stroke="#000" stroke-width="0.2">33</text>
<text transform="translate(474.20,389.60) scale(1.12,1)" font-size="10.8" font-weight="normal" text-anchor="middle" letter-spacing="0.9" stroke="#000" stroke-width="0.2">50</text>
<text transform="translate(503.30,389.60) scale(1.12,1)" font-size="10.8" font-weight="normal" text-anchor="middle" letter-spacing="0.9" stroke="#000" stroke-width="0.2"><tspan font-weight="bold" stroke-width="0">1</tspan>00</text>
<text x="407.15" y="402.70" font-size="10.8" font-weight="bold" text-anchor="middle">RO318220(μM)</text>
<text transform="translate(279.20,304.35) rotate(-90)" font-size="10.8" font-weight="bold" text-anchor="middle">Delay (minutes)</text>
<text x="267.90" y="221.50" font-size="25.5" font-weight="bold" text-anchor="start">D</text>
</svg>
</body></html>
